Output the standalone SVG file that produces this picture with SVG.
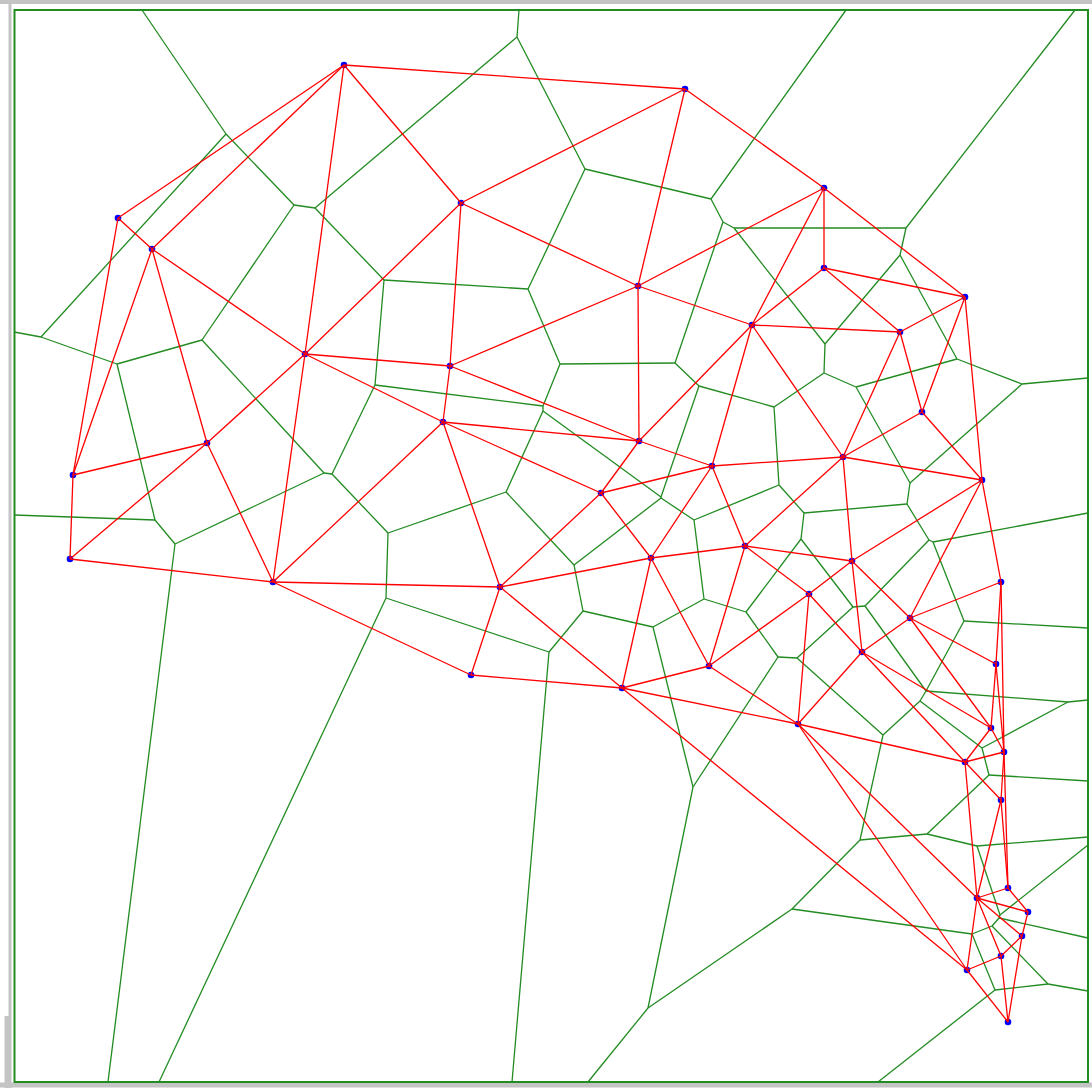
<svg xmlns="http://www.w3.org/2000/svg" width="1092" height="1088" viewBox="0 0 1092 1088">
<style>
.v{stroke:#228b22;stroke-width:1.3;fill:none}
.d{stroke:#ff0000;stroke-width:1.3;fill:none}
.pt{fill:#0000ff}
.frame{stroke:#c4c4c4;fill:none}
</style>
<rect x="0" y="0" width="1092" height="1088" fill="#ffffff"/>
<g id="frame">
<line class="frame" x1="0" y1="2" x2="1092" y2="2" stroke-width="4"/>
<line class="frame" x1="10" y1="0" x2="10" y2="1088" stroke-width="3"/>
<line class="frame" x1="7" y1="1016" x2="7" y2="1088" stroke-width="5"/>
<line class="frame" x1="0" y1="1085" x2="1092" y2="1085" stroke-width="5"/>
<rect x="14.5" y="10" width="1073.5" height="1072" stroke="#228b22" stroke-width="2" fill="none"/>
</g>
<g id="voronoi">
<line class="v" x1="517" y1="37" x2="519" y2="10"/>
<line class="v" x1="226" y1="134" x2="142" y2="10"/>
<line class="v" x1="226" y1="134" x2="294" y2="205"/>
<line class="v" x1="315" y1="208" x2="517" y2="37"/>
<line class="v" x1="294" y1="205" x2="315" y2="208"/>
<line class="v" x1="517" y1="37" x2="585" y2="169"/>
<line class="v" x1="711" y1="199" x2="846" y2="10"/>
<line class="v" x1="585" y1="169" x2="711" y2="199"/>
<line class="v" x1="226" y1="134" x2="41" y2="337"/>
<line class="v" x1="41" y1="337" x2="14" y2="332"/>
<line class="v" x1="294" y1="205" x2="202" y2="340"/>
<line class="v" x1="117" y1="364" x2="202" y2="340"/>
<line class="v" x1="41" y1="337" x2="117" y2="364"/>
<line class="v" x1="528" y1="289" x2="585" y2="169"/>
<line class="v" x1="315" y1="208" x2="384" y2="280"/>
<line class="v" x1="384" y1="280" x2="528" y2="289"/>
<line class="v" x1="734" y1="228" x2="906" y2="228"/>
<line class="v" x1="906" y1="228" x2="1075" y2="10"/>
<line class="v" x1="711" y1="199" x2="723" y2="222"/>
<line class="v" x1="723" y1="222" x2="734" y2="228"/>
<line class="v" x1="906" y1="228" x2="900" y2="255"/>
<line class="v" x1="734" y1="228" x2="825" y2="344"/>
<line class="v" x1="900" y1="255" x2="825" y2="344"/>
<line class="v" x1="900" y1="255" x2="957" y2="359"/>
<line class="v" x1="957" y1="359" x2="1022" y2="384"/>
<line class="v" x1="1022" y1="384" x2="1088" y2="378"/>
<line class="v" x1="723" y1="222" x2="675" y2="363"/>
<line class="v" x1="528" y1="289" x2="560" y2="364"/>
<line class="v" x1="675" y1="363" x2="560" y2="364"/>
<line class="v" x1="825" y1="344" x2="824" y2="373"/>
<line class="v" x1="675" y1="363" x2="699" y2="386"/>
<line class="v" x1="699" y1="386" x2="774" y2="407"/>
<line class="v" x1="774" y1="407" x2="824" y2="373"/>
<line class="v" x1="856" y1="387" x2="957" y2="359"/>
<line class="v" x1="824" y1="373" x2="856" y2="387"/>
<line class="v" x1="375" y1="385" x2="384" y2="280"/>
<line class="v" x1="332" y1="474" x2="375" y2="385"/>
<line class="v" x1="202" y1="340" x2="324" y2="473"/>
<line class="v" x1="324" y1="473" x2="332" y2="474"/>
<line class="v" x1="375" y1="385" x2="543" y2="406"/>
<line class="v" x1="560" y1="364" x2="543" y2="406"/>
<line class="v" x1="332" y1="474" x2="388" y2="533"/>
<line class="v" x1="543" y1="406" x2="543" y2="411"/>
<line class="v" x1="543" y1="411" x2="506" y2="492"/>
<line class="v" x1="506" y1="492" x2="388" y2="533"/>
<line class="v" x1="117" y1="364" x2="155" y2="520"/>
<line class="v" x1="155" y1="520" x2="175" y2="544"/>
<line class="v" x1="175" y1="544" x2="324" y2="473"/>
<line class="v" x1="155" y1="520" x2="14" y2="515"/>
<line class="v" x1="175" y1="544" x2="108" y2="1082"/>
<line class="v" x1="388" y1="533" x2="386" y2="598"/>
<line class="v" x1="386" y1="598" x2="159" y2="1082"/>
<line class="v" x1="661" y1="497" x2="699" y2="386"/>
<line class="v" x1="543" y1="411" x2="661" y2="497"/>
<line class="v" x1="856" y1="387" x2="910" y2="483"/>
<line class="v" x1="1022" y1="384" x2="910" y2="483"/>
<line class="v" x1="774" y1="407" x2="779" y2="485"/>
<line class="v" x1="661" y1="498" x2="661" y2="497"/>
<line class="v" x1="661" y1="498" x2="694" y2="520"/>
<line class="v" x1="779" y1="485" x2="694" y2="520"/>
<line class="v" x1="910" y1="483" x2="907" y2="504"/>
<line class="v" x1="804" y1="513" x2="779" y2="485"/>
<line class="v" x1="907" y1="504" x2="804" y2="513"/>
<line class="v" x1="907" y1="504" x2="929" y2="540"/>
<line class="v" x1="933" y1="542" x2="1088" y2="513"/>
<line class="v" x1="929" y1="540" x2="933" y2="542"/>
<line class="v" x1="574" y1="565" x2="661" y2="498"/>
<line class="v" x1="506" y1="492" x2="574" y2="565"/>
<line class="v" x1="694" y1="520" x2="704" y2="599"/>
<line class="v" x1="583" y1="611" x2="574" y2="565"/>
<line class="v" x1="704" y1="599" x2="653" y2="627"/>
<line class="v" x1="583" y1="611" x2="653" y2="627"/>
<line class="v" x1="804" y1="513" x2="801" y2="539"/>
<line class="v" x1="746" y1="612" x2="801" y2="539"/>
<line class="v" x1="704" y1="599" x2="746" y2="612"/>
<line class="v" x1="801" y1="539" x2="853" y2="607"/>
<line class="v" x1="865" y1="606" x2="929" y2="540"/>
<line class="v" x1="853" y1="607" x2="865" y2="606"/>
<line class="v" x1="386" y1="598" x2="549" y2="652"/>
<line class="v" x1="549" y1="652" x2="583" y2="611"/>
<line class="v" x1="853" y1="607" x2="797" y2="658"/>
<line class="v" x1="746" y1="612" x2="778" y2="657"/>
<line class="v" x1="797" y1="658" x2="778" y2="657"/>
<line class="v" x1="933" y1="542" x2="964" y2="621"/>
<line class="v" x1="964" y1="621" x2="1088" y2="628"/>
<line class="v" x1="865" y1="606" x2="926" y2="691"/>
<line class="v" x1="964" y1="621" x2="926" y2="691"/>
<line class="v" x1="883" y1="735" x2="797" y2="658"/>
<line class="v" x1="926" y1="691" x2="920" y2="701"/>
<line class="v" x1="920" y1="701" x2="883" y2="735"/>
<line class="v" x1="653" y1="627" x2="693" y2="787"/>
<line class="v" x1="778" y1="657" x2="693" y2="787"/>
<line class="v" x1="926" y1="691" x2="1068" y2="702"/>
<line class="v" x1="1068" y1="702" x2="1088" y2="700"/>
<line class="v" x1="549" y1="652" x2="512" y2="1082"/>
<line class="v" x1="693" y1="787" x2="648" y2="1008"/>
<line class="v" x1="648" y1="1008" x2="588" y2="1082"/>
<line class="v" x1="883" y1="735" x2="860" y2="840"/>
<line class="v" x1="792" y1="909" x2="860" y2="840"/>
<line class="v" x1="648" y1="1008" x2="792" y2="909"/>
<line class="v" x1="982" y1="748" x2="1068" y2="702"/>
<line class="v" x1="920" y1="701" x2="982" y2="748"/>
<line class="v" x1="989" y1="775" x2="982" y2="748"/>
<line class="v" x1="989" y1="775" x2="1088" y2="781"/>
<line class="v" x1="927" y1="834" x2="989" y2="775"/>
<line class="v" x1="860" y1="840" x2="927" y2="834"/>
<line class="v" x1="977" y1="846" x2="1088" y2="837"/>
<line class="v" x1="927" y1="834" x2="977" y2="846"/>
<line class="v" x1="977" y1="846" x2="1000" y2="915"/>
<line class="v" x1="1000" y1="915" x2="1088" y2="845"/>
<line class="v" x1="1000" y1="915" x2="999" y2="918"/>
<line class="v" x1="999" y1="918" x2="992" y2="926"/>
<line class="v" x1="992" y1="926" x2="972" y2="934"/>
<line class="v" x1="792" y1="909" x2="972" y2="934"/>
<line class="v" x1="999" y1="918" x2="1088" y2="938"/>
<line class="v" x1="992" y1="926" x2="1048" y2="984"/>
<line class="v" x1="1048" y1="984" x2="1088" y2="991"/>
<line class="v" x1="972" y1="934" x2="995" y2="990"/>
<line class="v" x1="995" y1="990" x2="1048" y2="984"/>
<line class="v" x1="995" y1="990" x2="878" y2="1082"/>
</g>
<g id="points">
<g id="p1"><circle class="pt" cx="344" cy="65" r="3.3"/></g>
<g id="p2"><circle class="pt" cx="685" cy="89" r="3.3"/></g>
<g id="p3"><circle class="pt" cx="118" cy="218" r="3.3"/></g>
<g id="p4"><circle class="pt" cx="152" cy="249" r="3.3"/></g>
<g id="p5"><circle class="pt" cx="461" cy="203" r="3.3"/></g>
<g id="p6"><circle class="pt" cx="824" cy="188" r="3.3"/></g>
<g id="p7"><circle class="pt" cx="824" cy="268" r="3.3"/></g>
<g id="p8"><circle class="pt" cx="965" cy="297" r="3.3"/></g>
<g id="p9"><circle class="pt" cx="638" cy="286" r="3.3"/></g>
<g id="p10"><circle class="pt" cx="752" cy="325" r="3.3"/></g>
<g id="p11"><circle class="pt" cx="900" cy="332" r="3.3"/></g>
<g id="p12"><circle class="pt" cx="305" cy="354" r="3.3"/></g>
<g id="p13"><circle class="pt" cx="450" cy="366" r="3.3"/></g>
<g id="p14"><circle class="pt" cx="443" cy="422" r="3.3"/></g>
<g id="p15"><circle class="pt" cx="207" cy="443" r="3.3"/></g>
<g id="p16"><circle class="pt" cx="73" cy="475" r="3.3"/></g>
<g id="p17"><circle class="pt" cx="70" cy="559" r="3.3"/></g>
<g id="p18"><circle class="pt" cx="273" cy="582" r="3.3"/></g>
<g id="p19"><circle class="pt" cx="639" cy="441" r="3.3"/></g>
<g id="p20"><circle class="pt" cx="922" cy="412" r="3.3"/></g>
<g id="p21"><circle class="pt" cx="712" cy="466" r="3.3"/></g>
<g id="p22"><circle class="pt" cx="843" cy="457" r="3.3"/></g>
<g id="p23"><circle class="pt" cx="982" cy="480" r="3.3"/></g>
<g id="p24"><circle class="pt" cx="601" cy="493" r="3.3"/></g>
<g id="p25"><circle class="pt" cx="651" cy="558" r="3.3"/></g>
<g id="p26"><circle class="pt" cx="745" cy="546" r="3.3"/></g>
<g id="p27"><circle class="pt" cx="852" cy="561" r="3.3"/></g>
<g id="p28"><circle class="pt" cx="500" cy="587" r="3.3"/></g>
<g id="p29"><circle class="pt" cx="809" cy="594" r="3.3"/></g>
<g id="p30"><circle class="pt" cx="1001" cy="582" r="3.3"/></g>
<g id="p31"><circle class="pt" cx="910" cy="618" r="3.3"/></g>
<g id="p32"><circle class="pt" cx="862" cy="652" r="3.3"/></g>
<g id="p33"><circle class="pt" cx="709" cy="666" r="3.3"/></g>
<g id="p34"><circle class="pt" cx="996" cy="664" r="3.3"/></g>
<g id="p35"><circle class="pt" cx="471" cy="675" r="3.3"/></g>
<g id="p36"><circle class="pt" cx="622" cy="688" r="3.3"/></g>
<g id="p37"><circle class="pt" cx="798" cy="724" r="3.3"/></g>
<g id="p38"><circle class="pt" cx="991" cy="728" r="3.3"/></g>
<g id="p39"><circle class="pt" cx="1004" cy="752" r="3.3"/></g>
<g id="p40"><circle class="pt" cx="965" cy="762" r="3.3"/></g>
<g id="p41"><circle class="pt" cx="1001" cy="800" r="3.3"/></g>
<g id="p42"><circle class="pt" cx="1008" cy="888" r="3.3"/></g>
<g id="p43"><circle class="pt" cx="977" cy="898" r="3.3"/></g>
<g id="p44"><circle class="pt" cx="1028" cy="912" r="3.3"/></g>
<g id="p45"><circle class="pt" cx="1022" cy="936" r="3.3"/></g>
<g id="p46"><circle class="pt" cx="1001" cy="956" r="3.3"/></g>
<g id="p47"><circle class="pt" cx="967" cy="970" r="3.3"/></g>
<g id="p48"><circle class="pt" cx="1008" cy="1022" r="3.3"/></g>
</g>
<g id="delaunay">
<line class="d" x1="344" y1="65" x2="685" y2="89"/>
<line class="d" x1="344" y1="65" x2="118" y2="218"/>
<line class="d" x1="344" y1="65" x2="152" y2="249"/>
<line class="d" x1="344" y1="65" x2="461" y2="203"/>
<line class="d" x1="344" y1="65" x2="305" y2="354"/>
<line class="d" x1="685" y1="89" x2="461" y2="203"/>
<line class="d" x1="685" y1="89" x2="824" y2="188"/>
<line class="d" x1="685" y1="89" x2="638" y2="286"/>
<line class="d" x1="118" y1="218" x2="152" y2="249"/>
<line class="d" x1="118" y1="218" x2="73" y2="475"/>
<line class="d" x1="152" y1="249" x2="305" y2="354"/>
<line class="d" x1="152" y1="249" x2="207" y2="443"/>
<line class="d" x1="152" y1="249" x2="73" y2="475"/>
<line class="d" x1="461" y1="203" x2="638" y2="286"/>
<line class="d" x1="461" y1="203" x2="305" y2="354"/>
<line class="d" x1="461" y1="203" x2="450" y2="366"/>
<line class="d" x1="824" y1="188" x2="824" y2="268"/>
<line class="d" x1="824" y1="188" x2="965" y2="297"/>
<line class="d" x1="824" y1="188" x2="638" y2="286"/>
<line class="d" x1="824" y1="188" x2="752" y2="325"/>
<line class="d" x1="824" y1="268" x2="965" y2="297"/>
<line class="d" x1="824" y1="268" x2="752" y2="325"/>
<line class="d" x1="824" y1="268" x2="900" y2="332"/>
<line class="d" x1="965" y1="297" x2="900" y2="332"/>
<line class="d" x1="965" y1="297" x2="922" y2="412"/>
<line class="d" x1="965" y1="297" x2="982" y2="480"/>
<line class="d" x1="638" y1="286" x2="752" y2="325"/>
<line class="d" x1="638" y1="286" x2="450" y2="366"/>
<line class="d" x1="638" y1="286" x2="639" y2="441"/>
<line class="d" x1="752" y1="325" x2="900" y2="332"/>
<line class="d" x1="752" y1="325" x2="639" y2="441"/>
<line class="d" x1="752" y1="325" x2="712" y2="466"/>
<line class="d" x1="752" y1="325" x2="843" y2="457"/>
<line class="d" x1="900" y1="332" x2="922" y2="412"/>
<line class="d" x1="900" y1="332" x2="843" y2="457"/>
<line class="d" x1="305" y1="354" x2="450" y2="366"/>
<line class="d" x1="305" y1="354" x2="443" y2="422"/>
<line class="d" x1="305" y1="354" x2="207" y2="443"/>
<line class="d" x1="305" y1="354" x2="273" y2="582"/>
<line class="d" x1="450" y1="366" x2="443" y2="422"/>
<line class="d" x1="450" y1="366" x2="639" y2="441"/>
<line class="d" x1="443" y1="422" x2="273" y2="582"/>
<line class="d" x1="443" y1="422" x2="639" y2="441"/>
<line class="d" x1="443" y1="422" x2="601" y2="493"/>
<line class="d" x1="443" y1="422" x2="500" y2="587"/>
<line class="d" x1="207" y1="443" x2="73" y2="475"/>
<line class="d" x1="207" y1="443" x2="70" y2="559"/>
<line class="d" x1="207" y1="443" x2="273" y2="582"/>
<line class="d" x1="73" y1="475" x2="70" y2="559"/>
<line class="d" x1="70" y1="559" x2="273" y2="582"/>
<line class="d" x1="273" y1="582" x2="500" y2="587"/>
<line class="d" x1="273" y1="582" x2="471" y2="675"/>
<line class="d" x1="639" y1="441" x2="712" y2="466"/>
<line class="d" x1="639" y1="441" x2="601" y2="493"/>
<line class="d" x1="922" y1="412" x2="843" y2="457"/>
<line class="d" x1="922" y1="412" x2="982" y2="480"/>
<line class="d" x1="712" y1="466" x2="843" y2="457"/>
<line class="d" x1="712" y1="466" x2="601" y2="493"/>
<line class="d" x1="712" y1="466" x2="651" y2="558"/>
<line class="d" x1="712" y1="466" x2="745" y2="546"/>
<line class="d" x1="843" y1="457" x2="982" y2="480"/>
<line class="d" x1="843" y1="457" x2="745" y2="546"/>
<line class="d" x1="843" y1="457" x2="852" y2="561"/>
<line class="d" x1="982" y1="480" x2="852" y2="561"/>
<line class="d" x1="982" y1="480" x2="1001" y2="582"/>
<line class="d" x1="982" y1="480" x2="910" y2="618"/>
<line class="d" x1="601" y1="493" x2="651" y2="558"/>
<line class="d" x1="601" y1="493" x2="500" y2="587"/>
<line class="d" x1="651" y1="558" x2="745" y2="546"/>
<line class="d" x1="651" y1="558" x2="500" y2="587"/>
<line class="d" x1="651" y1="558" x2="709" y2="666"/>
<line class="d" x1="651" y1="558" x2="622" y2="688"/>
<line class="d" x1="745" y1="546" x2="852" y2="561"/>
<line class="d" x1="745" y1="546" x2="809" y2="594"/>
<line class="d" x1="745" y1="546" x2="709" y2="666"/>
<line class="d" x1="852" y1="561" x2="809" y2="594"/>
<line class="d" x1="852" y1="561" x2="910" y2="618"/>
<line class="d" x1="852" y1="561" x2="862" y2="652"/>
<line class="d" x1="500" y1="587" x2="471" y2="675"/>
<line class="d" x1="500" y1="587" x2="622" y2="688"/>
<line class="d" x1="809" y1="594" x2="862" y2="652"/>
<line class="d" x1="809" y1="594" x2="709" y2="666"/>
<line class="d" x1="809" y1="594" x2="798" y2="724"/>
<line class="d" x1="1001" y1="582" x2="910" y2="618"/>
<line class="d" x1="1001" y1="582" x2="996" y2="664"/>
<line class="d" x1="1001" y1="582" x2="1004" y2="752"/>
<line class="d" x1="910" y1="618" x2="862" y2="652"/>
<line class="d" x1="910" y1="618" x2="996" y2="664"/>
<line class="d" x1="910" y1="618" x2="991" y2="728"/>
<line class="d" x1="862" y1="652" x2="798" y2="724"/>
<line class="d" x1="862" y1="652" x2="991" y2="728"/>
<line class="d" x1="862" y1="652" x2="965" y2="762"/>
<line class="d" x1="709" y1="666" x2="622" y2="688"/>
<line class="d" x1="709" y1="666" x2="798" y2="724"/>
<line class="d" x1="996" y1="664" x2="991" y2="728"/>
<line class="d" x1="996" y1="664" x2="1004" y2="752"/>
<line class="d" x1="471" y1="675" x2="622" y2="688"/>
<line class="d" x1="622" y1="688" x2="798" y2="724"/>
<line class="d" x1="622" y1="688" x2="967" y2="970"/>
<line class="d" x1="798" y1="724" x2="965" y2="762"/>
<line class="d" x1="798" y1="724" x2="977" y2="898"/>
<line class="d" x1="798" y1="724" x2="967" y2="970"/>
<line class="d" x1="991" y1="728" x2="1004" y2="752"/>
<line class="d" x1="991" y1="728" x2="965" y2="762"/>
<line class="d" x1="1004" y1="752" x2="965" y2="762"/>
<line class="d" x1="1004" y1="752" x2="1001" y2="800"/>
<line class="d" x1="1004" y1="752" x2="1008" y2="888"/>
<line class="d" x1="965" y1="762" x2="1001" y2="800"/>
<line class="d" x1="965" y1="762" x2="977" y2="898"/>
<line class="d" x1="1001" y1="800" x2="1008" y2="888"/>
<line class="d" x1="1001" y1="800" x2="977" y2="898"/>
<line class="d" x1="1008" y1="888" x2="977" y2="898"/>
<line class="d" x1="1008" y1="888" x2="1028" y2="912"/>
<line class="d" x1="977" y1="898" x2="1028" y2="912"/>
<line class="d" x1="977" y1="898" x2="1022" y2="936"/>
<line class="d" x1="977" y1="898" x2="1001" y2="956"/>
<line class="d" x1="977" y1="898" x2="967" y2="970"/>
<line class="d" x1="1028" y1="912" x2="1022" y2="936"/>
<line class="d" x1="1022" y1="936" x2="1001" y2="956"/>
<line class="d" x1="1022" y1="936" x2="1008" y2="1022"/>
<line class="d" x1="1001" y1="956" x2="967" y2="970"/>
<line class="d" x1="1001" y1="956" x2="1008" y2="1022"/>
<line class="d" x1="967" y1="970" x2="1008" y2="1022"/>
</g>
</svg>
